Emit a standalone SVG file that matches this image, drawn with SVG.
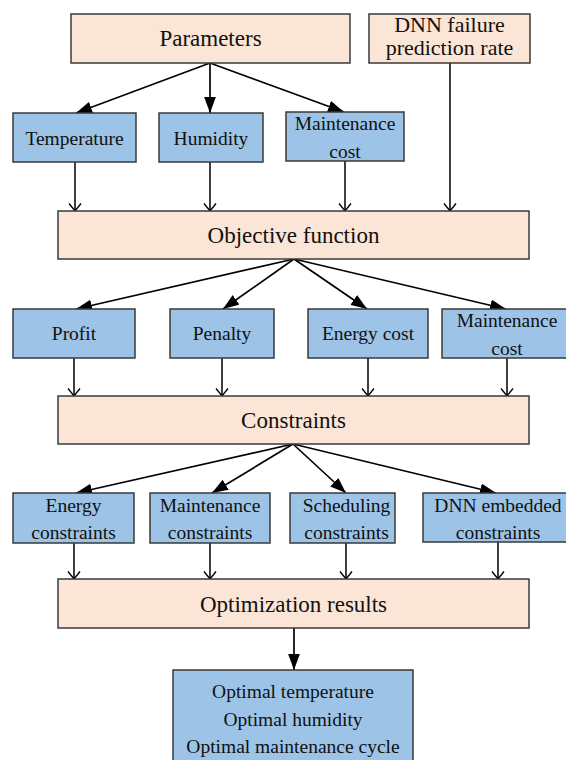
<svg xmlns="http://www.w3.org/2000/svg" width="566" height="760" viewBox="0 0 566 760">
<style>
.pk{fill:#FBE5D6;stroke:#3a3a3a;stroke-width:1.5}
.bl{fill:#9DC3E6;stroke:#3a3a3a;stroke-width:1.5}
text{font-family:"Liberation Serif","DejaVu Serif","Times New Roman",serif;fill:#111;text-anchor:middle}
.big{font-size:23px}
.dn{font-size:22px}
.sm{font-size:19.5px}
.f{fill:none;stroke:#000;stroke-width:1.7;marker-end:url(#fa)}
.o{fill:none;stroke:#000;stroke-width:1.5;marker-end:url(#oa)}
</style>
<defs>
<marker id="fa" markerUnits="userSpaceOnUse" markerWidth="16" markerHeight="12" viewBox="0 0 15 11" refX="15" refY="5.5" orient="auto">
<path d="M0,0 L15,5.5 L0,11 z" fill="#000"/>
</marker>
<marker id="oa" markerUnits="userSpaceOnUse" markerWidth="10" markerHeight="14" viewBox="-1 -1 10 14" refX="7.5" refY="6" orient="auto">
<path d="M0,0 L7.5,6 L0,12" fill="none" stroke="#000" stroke-width="1.4"/>
</marker>
</defs>
<rect width="566" height="760" fill="#fff"/>

<g id="connectors">
<path class="f" d="M210,63 L76,113"/>
<path class="f" d="M210,63 L210,113"/>
<path class="f" d="M210,63 L344,112"/>
<path class="o" d="M75,162 L75,211"/>
<path class="o" d="M210,162 L210,211"/>
<path class="o" d="M345,161 L345,211"/>
<path class="o" d="M450,63 L450,211"/>
<path class="f" d="M294,259 L76,309"/>
<path class="f" d="M294,259 L223,309"/>
<path class="f" d="M294,259 L367,309"/>
<path class="f" d="M294,259 L506,309"/>
<path class="o" d="M74,358 L74,396"/>
<path class="o" d="M222,358 L222,396"/>
<path class="o" d="M368,358 L368,396"/>
<path class="o" d="M507,358 L507,396"/>
<path class="f" d="M293,444 L76,493"/>
<path class="f" d="M293,444 L212,493"/>
<path class="f" d="M293,444 L346,493"/>
<path class="f" d="M293,444 L496,493"/>
<path class="o" d="M74,543 L74,579"/>
<path class="o" d="M210,543 L210,579"/>
<path class="o" d="M346,543 L346,579"/>
<path class="o" d="M498,542 L498,579"/>
<path class="f" d="M294,628 L294,670"/>
</g>

<g id="parameters"><rect class="pk" x="71" y="14" width="279" height="49"/><text class="big" x="210.5" y="46">Parameters</text></g>
<g id="dnn-rate"><rect class="pk" x="369" y="14" width="161" height="49"/><text class="dn" x="449.5" y="32">DNN failure</text><text class="dn" x="449.5" y="55">prediction rate</text></g>

<g id="temperature"><rect class="bl" x="13" y="113" width="123" height="49"/><text class="sm" x="74.5" y="144.5">Temperature</text></g>
<g id="humidity"><rect class="bl" x="159" y="113" width="104" height="49"/><text class="sm" x="211" y="144.5">Humidity</text></g>
<g id="maint-cost-1"><rect class="bl" x="286" y="112" width="118" height="49"/><text class="sm" x="345" y="130">Maintenance</text><text class="sm" x="345" y="158">cost</text></g>

<g id="objective"><rect class="pk" x="58" y="211" width="471" height="48"/><text class="big" x="293.5" y="243">Objective function</text></g>

<g id="profit"><rect class="bl" x="13" y="309" width="122" height="49"/><text class="sm" x="74" y="340">Profit</text></g>
<g id="penalty"><rect class="bl" x="170" y="309" width="104" height="49"/><text class="sm" x="222" y="340">Penalty</text></g>
<g id="energy-cost"><rect class="bl" x="308" y="309" width="120" height="49"/><text class="sm" x="368" y="340">Energy cost</text></g>
<g id="maint-cost-2"><rect class="bl" x="442" y="309" width="130" height="49"/><text class="sm" x="507" y="327">Maintenance</text><text class="sm" x="507" y="355">cost</text></g>

<g id="constraints"><rect class="pk" x="58" y="396" width="471" height="48"/><text class="big" x="293.5" y="428">Constraints</text></g>

<g id="energy-constraints"><rect class="bl" x="13" y="493" width="121" height="50"/><text class="sm" x="73.5" y="512">Energy</text><text class="sm" x="73.5" y="539">constraints</text></g>
<g id="maint-constraints"><rect class="bl" x="150" y="493" width="120" height="50"/><text class="sm" x="210" y="512">Maintenance</text><text class="sm" x="210" y="539">constraints</text></g>
<g id="sched-constraints"><rect class="bl" x="290" y="493" width="105" height="50"/><text class="sm" x="346.5" y="512">Scheduling</text><text class="sm" x="346.5" y="539">constraints</text></g>
<g id="dnn-constraints"><rect class="bl" x="423" y="493" width="150" height="49"/><text class="sm" x="498" y="512">DNN embedded</text><text class="sm" x="498" y="539">constraints</text></g>

<g id="opt-results"><rect class="pk" x="58" y="579" width="471" height="49"/><text class="big" x="293.5" y="612">Optimization results</text></g>

<g id="optimal"><rect class="bl" x="173" y="670" width="240" height="100"/><text class="sm" x="293" y="698">Optimal temperature</text><text class="sm" x="293" y="726">Optimal humidity</text><text class="sm" x="293" y="753">Optimal maintenance cycle</text></g>
</svg>
